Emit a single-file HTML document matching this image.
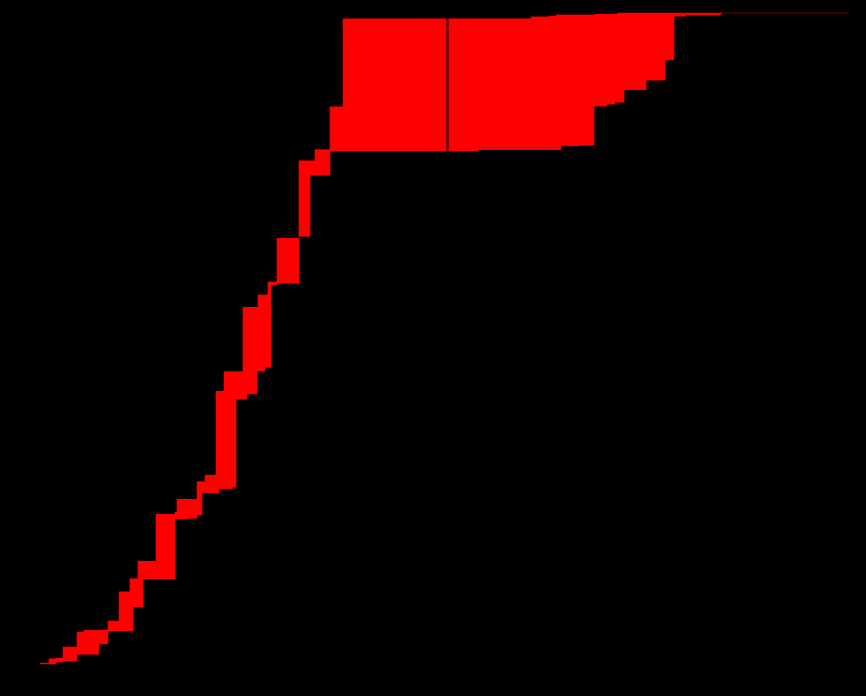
<!DOCTYPE html>
<html><head><meta charset="utf-8"><style>html,body{margin:0;padding:0;background:#000;}svg{display:block}</style></head>
<body>
<svg id="chart" width="866" height="696" viewBox="0 0 866 696" xmlns="http://www.w3.org/2000/svg">
<rect x="0" y="0" width="866" height="696" fill="#000"/>
</svg>
<script>
// Upper bound step curve
const upperX = [0,0.9,1.6,2.3,3.7,4.4,6.8,7.9,9.0,9.8,11.6,13.5,13.7,15.7,16.5,17.6,18.4,20.3,21.8,22.8,23.7,25.9,27.5,29.0,30.3,49.1,50.9,51.6,55.5,57.7,80.9];
const upperY = [0.0015,0.008,0.009,0.026,0.049,0.052,0.066,0.111,0.131,0.158,0.230,0.233,0.253,0.280,0.290,0.419,0.449,0.548,0.567,0.587,0.654,0.773,0.790,0.856,0.991,0.994,0.995,0.997,0.998,1.0,1.0];
// Lower bound step curve
const lowerX = [0,1.6,2.3,3.7,5.9,6.8,9.3,10.3,13.5,14.7,15.7,16.2,17.9,19.2,19.6,20.7,21.7,22.5,23.1,23.7,25.9,27.0,29.0,43.8,52.1,54.0,55.4,56.7,57.5,58.4,60.6,62.5,63.4,64.6,68.1,80.9];
const lowerY = [0,0.003,0.005,0.015,0.031,0.051,0.088,0.131,0.223,0.224,0.229,0.263,0.269,0.272,0.407,0.415,0.450,0.456,0.582,0.585,0.657,0.751,0.788,0.790,0.796,0.797,0.857,0.860,0.863,0.882,0.897,0.928,0.995,0.997,1.0,1.0];
const gapX = 40.75;

const xScale = v => 40 + v * 10;
const yScale = v => 664 - v * 651;

const svg = document.getElementById('chart');
const NS = 'http://www.w3.org/2000/svg';

function stepPts(xs, ys) {
  const pts = [];
  for (let i = 0; i < xs.length; i++) {
    if (i > 0) pts.push([xScale(xs[i]), yScale(ys[i - 1])]);
    pts.push([xScale(xs[i]), yScale(ys[i])]);
  }
  return pts;
}
const up = stepPts(upperX, upperY);
const lo = stepPts(lowerX, lowerY).reverse();
const all = up.concat(lo);
const poly = document.createElementNS(NS, 'polygon');
poly.setAttribute('points', all.map(p => p[0] + ',' + p[1]).join(' '));
poly.setAttribute('fill', '#ff0000');
poly.setAttribute('stroke', '#ff0000');
poly.setAttribute('stroke-width', '0.6');


svg.appendChild(poly);

const line = document.createElementNS(NS, 'line');
line.setAttribute('x1', xScale(gapX));
line.setAttribute('x2', xScale(gapX));
line.setAttribute('y1', yScale(0.991));
line.setAttribute('y2', yScale(0.788));
line.setAttribute('stroke', '#000');
line.setAttribute('stroke-width', '2');


svg.appendChild(line);
</script>
</body></html>
